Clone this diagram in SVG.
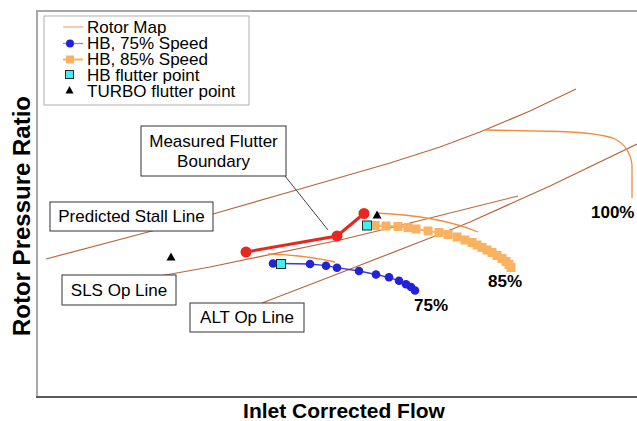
<svg xmlns="http://www.w3.org/2000/svg" width="637" height="421" viewBox="0 0 637 421">
  <style>
    text { font-family: "Liberation Sans", Arial, sans-serif; fill: #000; }
    .lbl { font-size: 17px; }
    .leg { font-size: 17px; }
    .pct { font-size: 17px; font-weight: bold; }
    .axis { font-size: 21px; font-weight: bold; }
    .yaxis { font-size: 24px; font-weight: bold; }
    .box { fill: #fff; stroke: #333; stroke-width: 1; }
    .opline { fill: none; stroke: #b8663c; stroke-width: 1.2; }
    .speed { fill: none; stroke: #f08c3c; stroke-width: 1.3; }
    .hb75 { fill: none; stroke: #3a3ad8; stroke-width: 1.3; }
    .dot75 { fill: #2222d8; }
    .hb85 { fill: none; stroke: #fbb260; stroke-width: 2; }
    .sq85 { fill: #fbb260; }
    .flut { fill: #40f0f0; stroke: #2a2a2a; stroke-width: 1; }
    .turbo { fill: #000; }
    .red { fill: none; stroke: #e8281e; stroke-width: 3; }
    .reddot { fill: #e8281e; }
  </style>
  <defs>
    <rect id="sq" x="-4.5" y="-4.5" width="9" height="9" class="sq85"/>
    <circle id="dot" r="4.3" class="dot75"/>
    <rect id="fp" x="-4.5" y="-4.5" width="9" height="9" class="flut"/>
    <path id="tri" d="M0,-4.5 L4.5,3.5 L-4.5,3.5 Z" class="turbo"/>
  </defs>

  <!-- plot frame -->
  <g id="frame">
    <path d="M37,397 L37,11 L637,11" fill="none" stroke="#a8a8a8" stroke-width="2"/>
    <path d="M36,397 L637,397" fill="none" stroke="#5a5a5a" stroke-width="2"/>
  </g>

  <!-- axis titles -->
  <text class="axis" x="344" y="418" text-anchor="middle">Inlet Corrected Flow</text>
  <text class="yaxis" transform="translate(30,216) rotate(-90)" text-anchor="middle">Rotor Pressure Ratio</text>

  <!-- connectors: operating / stall lines and rotor map speed lines -->
  <g id="connectors">
    <polyline id="stall-line" class="opline" points="46,259 152,231 213,214 300,189 390,163 440,147 480,132 530,111 576,89"/>
    <polyline id="sls-line" class="opline" points="160,276 210,267 340,240 390,228 518,196"/>
    <polyline id="alt-line" class="opline" points="262,303 340,273 430,238 470,222 550,186 637,144"/>
    <path id="speed-100" class="speed" d="M485,130 L560,131.5 Q600,133 615,139 Q630,147 632,165 L632,198"/>
    <path id="speed-85" class="speed" d="M376,213 Q440,216 478,232"/>
    <path id="speed-75" class="speed" d="M268,254 Q305,255 335,262"/>
    <line id="flutter-leader" x1="285" y1="176" x2="328" y2="230" stroke="#444" stroke-width="1"/>
  </g>

  <!-- HB 85% speed characteristic -->
  <g id="hb-85">
    <polyline class="hb85" points="367,225 375,225.5 386,226 398,226.5 408,227.5 416,229 428,231 439,232.5 448,234.5 457,237 465,240 472,242.5 477,245 482,247.5 487,250 492,252.5 497,255.5 502,258.5 506,261.5 509,264.5 511,267.5"/>
    <use href="#sq" x="375" y="225.5"/>
    <use href="#sq" x="386" y="226"/>
    <use href="#sq" x="398" y="226.5"/>
    <use href="#sq" x="408" y="227.5"/>
    <use href="#sq" x="416" y="229"/>
    <use href="#sq" x="428" y="231"/>
    <use href="#sq" x="439" y="232.5"/>
    <use href="#sq" x="448" y="234.5"/>
    <use href="#sq" x="457" y="237"/>
    <use href="#sq" x="465" y="240"/>
    <use href="#sq" x="472" y="242.5"/>
    <use href="#sq" x="477" y="245"/>
    <use href="#sq" x="482" y="247.5"/>
    <use href="#sq" x="487" y="250"/>
    <use href="#sq" x="492" y="252.5"/>
    <use href="#sq" x="497" y="255.5"/>
    <use href="#sq" x="502" y="258.5"/>
    <use href="#sq" x="506" y="261.5"/>
    <use href="#sq" x="509" y="264.5"/>
    <use href="#sq" x="511" y="267.5"/>
  </g>

  <!-- HB 75% speed characteristic -->
  <g id="hb-75">
    <polyline class="hb75" points="273,263.5 281,263.5 310,264 326,265.7 337,267.7 359,271 376,274.5 389,277.3 399,280.8 406,284.3 411,287 415,290.5"/>
    <use href="#dot" x="273" y="263.5"/>
    <use href="#dot" x="310" y="264"/>
    <use href="#dot" x="326" y="265.7"/>
    <use href="#dot" x="337" y="267.7"/>
    <use href="#dot" x="359" y="271"/>
    <use href="#dot" x="376" y="274.5"/>
    <use href="#dot" x="389" y="277.3"/>
    <use href="#dot" x="399" y="280.8"/>
    <use href="#dot" x="406" y="284.3"/>
    <use href="#dot" x="411" y="287"/>
    <use href="#dot" x="415" y="290.5"/>
  </g>

  <!-- measured flutter boundary -->
  <g id="flutter-boundary">
    <polyline class="red" points="246,252 337,236 364,213.5"/>
    <circle class="reddot" cx="246" cy="252" r="5.5"/>
    <circle class="reddot" cx="337" cy="236" r="5.5"/>
    <circle class="reddot" cx="364" cy="213.5" r="5.5"/>
  </g>

  <!-- flutter points -->
  <g id="hb-flutter">
    <use href="#fp" x="281" y="264"/>
    <use href="#fp" x="367" y="225.5"/>
  </g>
  <g id="turbo-flutter">
    <use href="#tri" x="171" y="257"/>
    <use href="#tri" x="377" y="215"/>
  </g>

  <!-- speed labels -->
  <text class="pct" x="591" y="218">100%</text>
  <text class="pct" x="488" y="287">85%</text>
  <text class="pct" x="414" y="311">75%</text>

  <!-- callout boxes -->
  <g id="label-flutter">
    <rect class="box" x="141" y="126" width="145" height="50"/>
    <text class="lbl" x="213.5" y="147" text-anchor="middle">Measured Flutter</text>
    <text class="lbl" x="213.5" y="167" text-anchor="middle">Boundary</text>
  </g>
  <g id="label-stall">
    <rect class="box" x="50" y="202" width="163" height="29"/>
    <text class="lbl" x="131.5" y="222" text-anchor="middle">Predicted Stall Line</text>
  </g>
  <g id="label-sls">
    <rect class="box" x="62" y="275" width="114" height="30"/>
    <text class="lbl" x="119" y="296" text-anchor="middle">SLS Op Line</text>
  </g>
  <g id="label-alt">
    <rect class="box" x="190" y="303" width="114" height="29"/>
    <text class="lbl" x="247" y="323" text-anchor="middle">ALT Op Line</text>
  </g>

  <!-- legend -->
  <g id="legend">
    <rect x="44" y="16" width="205" height="89" fill="#fff" stroke="#b0b0b0" stroke-width="1"/>
    <line x1="63" y1="27" x2="83" y2="27" stroke="#f6ad86" stroke-width="1.3"/>
    <line x1="63" y1="43.5" x2="83" y2="43.5" stroke="#8a8ae6" stroke-width="1.3"/>
    <circle cx="70" cy="43.5" r="4" class="dot75"/>
    <line x1="63" y1="59.5" x2="83" y2="59.5" stroke="#fbb260" stroke-width="2"/>
    <rect x="66" y="55.5" width="8" height="8" class="sq85"/>
    <rect x="65.5" y="70.5" width="8" height="8" class="flut"/>
    <path d="M69.5,86 L73.5,93.5 L65.5,93.5 Z" class="turbo"/>
    <text class="leg" x="87" y="33">Rotor Map</text>
    <text class="leg" x="87" y="49">HB, 75% Speed</text>
    <text class="leg" x="87" y="65">HB, 85% Speed</text>
    <text class="leg" x="87" y="81">HB flutter point</text>
    <text class="leg" x="87" y="97">TURBO flutter point</text>
  </g>
</svg>
